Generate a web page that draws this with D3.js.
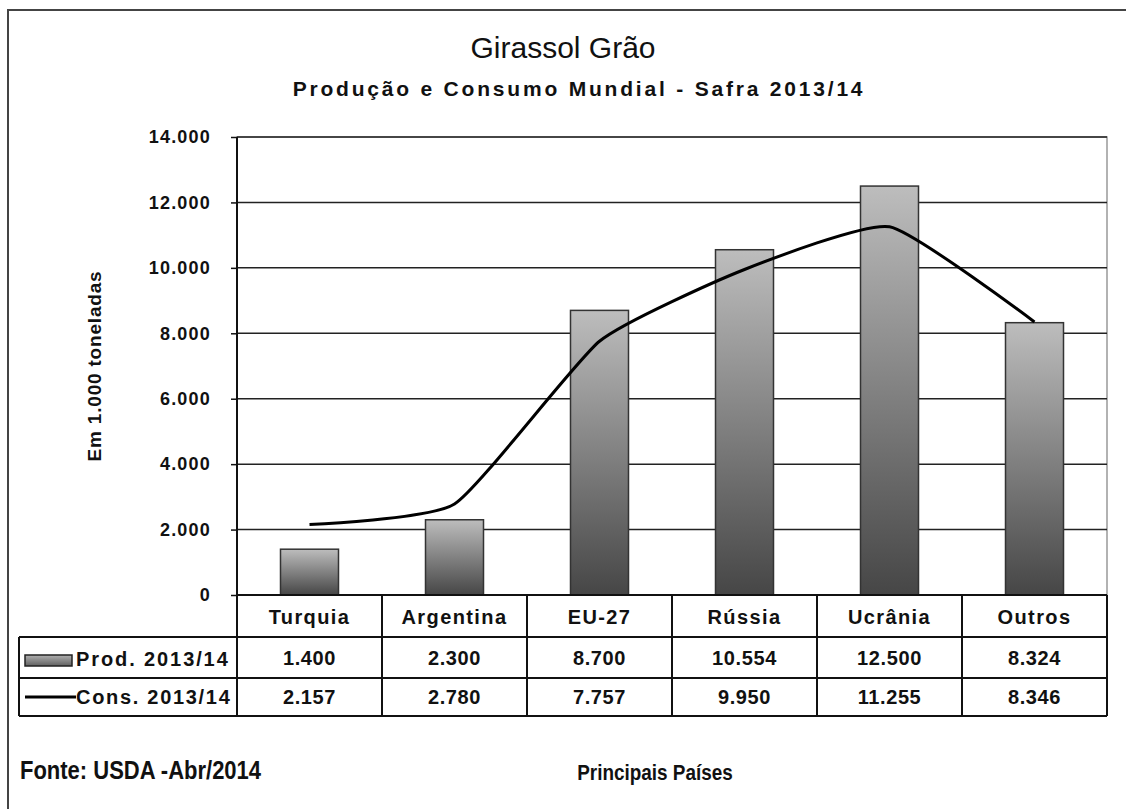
<!DOCTYPE html>
<html>
<head>
<meta charset="utf-8">
<script src="https://cdn.jsdelivr.net/npm/d3@7"></script>
<style>
  html, body { margin: 0; padding: 0; background: #fff; overflow: hidden; }
  svg { display: block; }
  text { font-family: "Liberation Sans", Arial, sans-serif; fill: #111; }
</style>
</head>
<body>
<svg id="chart" width="1126" height="809"></svg>
<script>
// Sunflower seed: world production and consumption, 2013/14 (thousand tonnes)
const paises = ["Turquia", "Argentina", "EU-27", "Rússia", "Ucrânia", "Outros"];
const producao = [1400, 2300, 8700, 10554, 12500, 8324];
const consumo = [2157, 2780, 7757, 9950, 11255, 8346];
const yTicks = [0, 2000, 4000, 6000, 8000, 10000, 12000, 14000];
const serieNomes = ["Prod. 2013/14", "Cons. 2013/14"];

const fmt = v => d3.format(",")(v).replace(/,/g, ".");

const svg = d3.select("#chart");
const plot = { left: 237, right: 1107, top: 137, bottom: 595 };

// Outer frame: only the left and top edges fall inside the page
svg.append("path")
  .attr("d", "M8,809V10H1126")
  .attr("fill", "none").attr("stroke", "#444").attr("stroke-width", 2);

// Gradients for the production bars and their legend key
const defs = svg.append("defs");
const grad = defs.append("linearGradient").attr("id", "barGrad")
  .attr("x1", 0).attr("y1", 0).attr("x2", 0).attr("y2", 1);
grad.append("stop").attr("offset", "0%").attr("stop-color", "#bdbdbd");
grad.append("stop").attr("offset", "100%").attr("stop-color", "#464646");
const gradH = defs.append("linearGradient").attr("id", "swatchGrad")
  .attr("x1", 0).attr("y1", 0).attr("x2", 0).attr("y2", 1);
gradH.append("stop").attr("offset", "0%").attr("stop-color", "#b0b0b0");
gradH.append("stop").attr("offset", "100%").attr("stop-color", "#606060");

// Titles
svg.append("text").attr("x", 563).attr("y", 58).attr("text-anchor", "middle")
  .style("font-size", "30px").text("Girassol Grão");
svg.append("text").attr("x", 579).attr("y", 96).attr("text-anchor", "middle")
  .style("font-size", "21px").style("font-weight", "bold").style("letter-spacing", "2.8px")
  .text("Produção e Consumo Mundial - Safra 2013/14");

// Scales
const x = d3.scaleBand().domain(paises).range([plot.left, plot.right]).paddingInner(0).paddingOuter(0);
const y = d3.scaleLinear().domain([0, 14000]).range([plot.bottom, plot.top]);

// Plot area border
svg.append("rect")
  .attr("x", plot.left).attr("y", plot.top)
  .attr("width", plot.right - plot.left).attr("height", plot.bottom - plot.top)
  .attr("fill", "none").attr("stroke", "#999").attr("stroke-width", 1.5);

// Gridlines
svg.append("g").selectAll("line").data(yTicks.filter(d => d > 0)).join("line")
  .attr("x1", plot.left).attr("x2", plot.right)
  .attr("y1", d => y(d)).attr("y2", d => y(d))
  .attr("stroke", "#222").attr("stroke-width", 1.5);

// Y axis
const yAxis = svg.append("g").attr("transform", `translate(${plot.left},0)`)
  .call(d3.axisLeft(y).tickValues(yTicks).tickFormat(fmt).tickSize(6).tickPadding(20));
yAxis.select(".domain").attr("stroke", "#111").attr("stroke-width", 2).attr("d", `M0,${plot.top}V${plot.bottom}`);
yAxis.selectAll(".tick line").attr("stroke", "#111").attr("stroke-width", 1.5);
yAxis.selectAll(".tick text")
  .style("font-family", "'Liberation Sans', Arial, sans-serif")
  .style("font-size", "18px").style("font-weight", "bold").style("letter-spacing", "1.2px")
  .attr("fill", "#111");

svg.append("text")
  .attr("transform", `translate(101,366) rotate(-90)`)
  .attr("text-anchor", "middle")
  .style("font-size", "19px").style("font-weight", "bold").style("letter-spacing", "0.8px")
  .text("Em 1.000 toneladas");

// Bars
const barW = 58;
svg.append("g").selectAll("rect").data(paises).join("rect")
  .attr("x", d => x(d) + x.bandwidth() / 2 - barW / 2)
  .attr("y", (d, i) => y(producao[i]))
  .attr("width", barW)
  .attr("height", (d, i) => y(0) - y(producao[i]))
  .attr("fill", "url(#barGrad)")
  .attr("stroke", "#333").attr("stroke-width", 1.5);

// Consumption line
const line = d3.line()
  .x(d => x(d.p) + x.bandwidth() / 2)
  .y(d => y(d.v))
  .curve(d3.curveCardinal.tension(0.5));
svg.append("path")
  .datum(paises.map((p, i) => ({ p, v: consumo[i] })))
  .attr("d", line)
  .attr("fill", "none").attr("stroke", "#000").attr("stroke-width", 3)
  .attr("stroke-linejoin", "round");

// Data table
const rowTop = [plot.bottom, 637, 678, 716];
const tableLeft = 19;
const tg = svg.append("g");
tg.append("line").attr("x1", plot.left).attr("x2", plot.right)
  .attr("y1", rowTop[0]).attr("y2", rowTop[0]).attr("stroke", "#111").attr("stroke-width", 2);
[1, 2, 3].forEach(r => {
  tg.append("line").attr("x1", tableLeft).attr("x2", plot.right)
    .attr("y1", rowTop[r]).attr("y2", rowTop[r]).attr("stroke", "#111").attr("stroke-width", 2);
});
tg.append("line").attr("x1", tableLeft).attr("x2", tableLeft)
  .attr("y1", rowTop[1]).attr("y2", rowTop[3]).attr("stroke", "#111").attr("stroke-width", 2);
const cuts = paises.map(p => x(p)).concat([plot.right]);
tg.selectAll("line.v").data(cuts).join("line").attr("class", "v")
  .attr("x1", d => d).attr("x2", d => d)
  .attr("y1", rowTop[0]).attr("y2", rowTop[3])
  .attr("stroke", "#111").attr("stroke-width", 2);

// category names
tg.selectAll("text.cat").data(paises).join("text").attr("class", "cat")
  .attr("x", d => x(d) + x.bandwidth() / 2).attr("y", 624)
  .attr("text-anchor", "middle")
  .style("font-size", "20px").style("font-weight", "bold").style("letter-spacing", "1.4px")
  .text(d => d);
// values
[producao, consumo].forEach((serie, r) => {
  tg.selectAll(`text.val${r}`).data(serie).join("text").attr("class", `val${r}`)
    .attr("x", (d, i) => x(paises[i]) + x.bandwidth() / 2)
    .attr("y", r === 0 ? 665 : 704)
    .attr("text-anchor", "middle")
    .style("font-size", "20px").style("font-weight", "bold").style("letter-spacing", "0.6px")
    .text(fmt);
});
// row headers with legend keys
tg.append("rect").attr("x", 25).attr("y", 655).attr("width", 47).attr("height", 11)
  .attr("fill", "url(#swatchGrad)").attr("stroke", "#222").attr("stroke-width", 1.5);
tg.append("text").attr("x", 76).attr("y", 666)
  .style("font-size", "20px").style("font-weight", "bold").style("letter-spacing", "1.9px").text(serieNomes[0]);
tg.append("line").attr("x1", 25).attr("x2", 76).attr("y1", 697).attr("y2", 697)
  .attr("stroke", "#000").attr("stroke-width", 3);
tg.append("text").attr("x", 76).attr("y", 704)
  .style("font-size", "20px").style("font-weight", "bold").style("letter-spacing", "1.7px").text(serieNomes[1]);

// Footer (narrowed bold type)
svg.append("text").attr("transform", "translate(20,779) scale(0.88,1)")
  .style("font-size", "25px").style("font-weight", "bold").text("Fonte: USDA -Abr/2014");
svg.append("text").attr("transform", "translate(655,780) scale(0.88,1)").attr("text-anchor", "middle")
  .style("font-size", "21.5px").style("font-weight", "bold").text("Principais Países");
</script>
</body>
</html>
